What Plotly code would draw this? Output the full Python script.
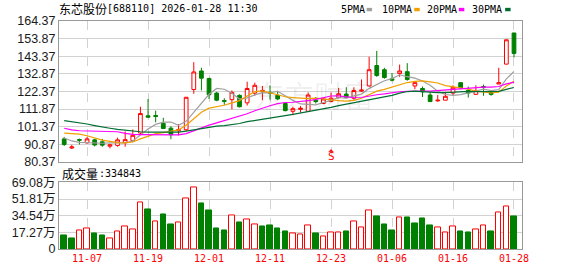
import plotly.graph_objects as go

# ---------------- data ----------------
dates = ["11-04", "11-05", "11-06", "11-07", "11-10", "11-11", "11-12", "11-13", "11-14",
         "11-17", "11-18", "11-19", "11-20", "11-21", "11-24", "11-25", "11-26", "11-27",
         "11-28", "12-01", "12-02", "12-03", "12-04", "12-05", "12-08", "12-09", "12-10",
         "12-11", "12-12", "12-15", "12-16", "12-17", "12-18", "12-19", "12-22", "12-23",
         "12-24", "12-25", "12-26", "12-29", "12-30", "12-31", "01-05", "01-06", "01-07",
         "01-08", "01-09", "01-12", "01-13", "01-14", "01-15", "01-16", "01-19", "01-20",
         "01-21", "01-22", "01-23", "01-26", "01-27", "01-28"]

opens = [94.03, 88.60, 93.63, 91.71, 93.45, 92.29, 89.70, 90.14, 91.71, 93.04,
         97.52, 107.81, 108.00, 103.33, 100.43, 98.86, 99.44, 123.51, 134.56, 130.08,
         121.36, 116.90, 117.46, 120.02, 115.55, 121.36, 122.52, 121.77, 120.02, 115.14,
         110.49, 111.65, 110.49, 117.12, 115.14, 116.30, 118.63, 120.78, 118.28, 122.52,
         125.60, 137.81, 135.31, 129.90, 132.99, 134.15, 125.60, 124.09, 120.20, 116.70,
         117.12, 121.36, 127.58, 122.93, 120.60, 125.25, 121.77, 126.77, 138.63, 157.23]
highs = [95.20, 90.50, 94.21, 95.20, 94.21, 94.03, 91.13, 94.79, 98.51, 99.67,
         113.22, 117.87, 110.89, 106.65, 101.59, 102.93, 119.00, 139.79, 136.47, 130.50,
         122.11, 118.28, 122.93, 120.60, 128.16, 127.58, 125.60, 126.00, 122.70, 115.95,
         113.22, 113.63, 121.77, 119.03, 118.60, 121.77, 124.44, 124.85, 124.85, 129.50,
         143.05, 146.53, 136.47, 133.40, 138.39, 139.21, 127.60, 125.25, 121.77, 120.20,
         122.11, 126.01, 127.93, 125.25, 126.01, 126.42, 122.52, 136.47, 153.20, 157.23]
lows = [89.79, 88.00, 90.72, 91.13, 89.56, 89.38, 88.39, 89.38, 89.38, 92.11,
        96.94, 106.70, 103.92, 99.85, 93.86, 96.18, 98.68, 120.95, 122.93, 117.87,
        116.53, 114.38, 111.65, 112.81, 113.97, 119.79, 117.12, 117.46, 117.12, 110.49,
        108.16, 109.73, 110.14, 115.14, 114.80, 115.95, 118.28, 118.28, 117.46, 122.11,
        125.25, 131.07, 129.90, 128.34, 131.07, 128.74, 123.68, 119.03, 116.30, 116.30,
        117.12, 120.20, 123.68, 118.63, 120.60, 119.79, 119.79, 126.77, 138.60, 142.70]
closes = [90.72, 89.20, 93.28, 94.03, 90.37, 90.30, 90.50, 93.45, 93.60, 96.18,
          109.15, 107.00, 107.40, 100.25, 96.53, 99.67, 118.86, 133.98, 130.25, 120.37,
          117.12, 116.50, 121.77, 113.22, 124.09, 126.01, 122.93, 121.36, 117.87, 110.89,
          112.06, 112.30, 120.20, 116.30, 117.87, 118.28, 120.95, 118.63, 122.90, 123.10,
          135.31, 131.82, 130.66, 129.09, 134.56, 129.50, 127.58, 122.11, 116.30, 117.10,
          119.44, 124.85, 124.44, 121.36, 122.93, 124.85, 120.60, 127.58, 153.17, 145.02]
volumes = [137000, 114000, 191000, 214000, 161000, 137000, 114000, 181000, 235000, 204000,
           483000, 406000, 282000, 355000, 258000, 272000, 527000, 644000, 476000, 396000,
           214000, 194000, 345000, 275000, 302000, 255000, 235000, 245000, 214000, 184000,
           164000, 154000, 245000, 157000, 134000, 174000, 174000, 184000, 282000, 225000,
           396000, 338000, 258000, 194000, 325000, 325000, 265000, 315000, 248000, 225000,
           174000, 235000, 184000, 174000, 204000, 245000, 184000, 376000, 446000, 334843]

ma5 = [94.6, 92.8, 92.0, 91.7, 91.52, 91.44, 91.70, 91.73, 91.64, 92.81,
       96.58, 99.88, 102.67, 104.00, 104.07, 102.17, 104.54, 109.86, 115.86, 120.63,
       124.12, 123.64, 121.20, 117.80, 118.54, 120.32, 121.60, 121.52, 122.45, 119.81,
       117.02, 114.90, 114.66, 114.35, 115.75, 116.99, 118.72, 118.41, 119.73, 120.77,
       124.18, 126.35, 128.76, 130.00, 132.29, 131.13, 130.28, 128.57, 126.01, 122.52,
       120.51, 119.96, 120.43, 121.44, 122.60, 123.69, 122.84, 123.46, 129.83, 134.24]
ma10 = [97.5, 97.2, 96.9, 95.9, 94.6, 93.3, 92.5, 91.8, 91.7, 92.16,
        94.01, 95.79, 97.20, 97.82, 98.44, 99.37, 102.21, 106.26, 109.93, 112.35,
        113.14, 114.09, 115.53, 116.83, 119.58, 122.22, 122.62, 121.36, 120.12, 119.18,
        118.67, 118.25, 118.09, 118.40, 117.78, 117.01, 116.81, 116.54, 117.04, 118.26,
        120.58, 122.54, 123.58, 124.86, 126.53, 127.65, 128.32, 128.66, 128.00, 127.40,
        125.82, 125.12, 124.50, 123.72, 122.56, 122.10, 121.40, 121.95, 125.63, 128.42]
ma20 = [100.4, 99.4, 98.9, 98.7, 98.7, 98.6, 98.5, 98.3, 97.3, 96.7,
        96.6, 96.5, 96.5, 96.5, 96.4, 96.4, 97.2, 99.0, 100.9, 102.25,
        103.57, 104.94, 106.36, 107.32, 109.01, 110.80, 112.42, 113.81, 115.03, 115.76,
        115.91, 116.17, 116.81, 117.61, 118.68, 119.61, 119.72, 118.95, 118.58, 118.72,
        119.63, 120.39, 120.84, 121.63, 122.15, 122.33, 122.56, 122.60, 122.52, 122.83,
        123.20, 123.83, 124.04, 124.29, 124.55, 124.87, 124.86, 125.30, 126.82, 127.91]
ma30 = [104.9, 104.3, 103.7, 102.9, 102.0, 101.0, 100.4, 99.7, 99.1, 98.5,
        98.3, 98.1, 98.1, 98.1, 98.1, 98.1, 98.7, 99.4, 100.4, 101.2,
        101.6, 102.0, 102.6, 103.2, 104.3, 105.1, 105.7, 106.6, 107.4, 107.90,
        108.61, 109.38, 110.27, 111.02, 111.93, 112.87, 113.88, 114.72, 115.70, 116.59,
        117.47, 118.29, 119.07, 120.03, 121.30, 122.29, 122.58, 122.19, 121.72, 121.61,
        121.69, 121.97, 122.06, 122.33, 122.29, 122.25, 122.17, 122.38, 123.56, 124.70]

ma_names = ["5PMA", "10PMA", "20PMA", "30PMA"]
price_ticks = [80.37, 90.87, 101.37, 111.87, 122.37, 132.87, 143.37, 153.87, 164.37]
vol_ticks = [0, 172700, 345400, 518100, 690800]
vol_tick_labels = ["0", "17.27万", "34.54万", "51.81万", "69.08万"]
date_tick_labels = ["11-07", "11-19", "12-01", "12-11", "12-23", "01-06", "01-16", "01-28"]
stock_name = "东芯股份"
stock_info = "[688110] 2026-01-28 11:30"
vol_title = "成交量"
signal_date = "12-23"
signal_text = "S"
watermark = "东方财富"

# ---------------- style ----------------
RED = "#ff0000"
GREEN = "#008000"
MA_COLORS = ["#a0a0a0", "#f0a000", "#ff00ff", "#006e33"]
BORDER = "#999999"
GRID = "#d2d2d2"
MONO = "DejaVu Sans Mono"
CJK = "Noto Sans CJK SC"
W, H = 578, 276
ML, MR, MT, MB = 55, 56, 21, 21
PW, PH = W - ML - MR, H - MT - MB


def px(x):
    return (x - ML) / PW


def py(y):
    return (H - MB - y) / PH


xs = list(range(len(dates)))
tick_pos = [dates.index(d) for d in date_tick_labels]

fig = go.Figure()

fig.add_trace(go.Candlestick(
    x=xs, open=opens, high=highs, low=lows, close=closes,
    increasing=dict(line=dict(color=RED, width=1), fillcolor="#ffffff"),
    decreasing=dict(line=dict(color=GREEN, width=1), fillcolor=GREEN),
    whiskerwidth=0, xaxis="x", yaxis="y", showlegend=False, hoverinfo="skip"))

for name, vals, col in zip(ma_names, [ma5, ma10, ma20, ma30], MA_COLORS):
    fig.add_trace(go.Scatter(x=xs, y=vals, mode="lines", name=name,
                             line=dict(color=col, width=1.2), xaxis="x", yaxis="y",
                             showlegend=False, hoverinfo="skip"))

up = []
for i in range(len(closes)):
    ref = closes[i - 1] if i > 0 else opens[i]
    up.append(closes[i] >= ref)

fig.add_trace(go.Bar(
    x=xs, y=volumes, width=0.72,
    marker=dict(color=["#ffffff" if u else GREEN for u in up],
                line=dict(color=[RED if u else GREEN for u in up], width=1)),
    xaxis="x2", yaxis="y2", showlegend=False, hoverinfo="skip"))

xr = [-0.68, len(dates) + 0.05]
common_x = dict(range=xr, tickvals=tick_pos, showgrid=True, gridcolor=GRID,
                griddash="dash", gridwidth=1, zeroline=False, showline=True, mirror=True,
                linecolor=BORDER, linewidth=1, ticks="", fixedrange=True)
price_dom = [py(165.5), 1]
vol_dom = [0, py(186.7)]

fig.update_layout(
    width=W, height=H,
    margin=dict(l=ML, r=MR, t=MT, b=MB),
    paper_bgcolor="white", plot_bgcolor="white",
    showlegend=False, bargap=0,
    xaxis=dict(domain=[0, 1], anchor="y", showticklabels=False,
               rangeslider=dict(visible=False), **common_x),
    xaxis2=dict(domain=[0, 1], anchor="y2", showticklabels=True,
                ticktext=date_tick_labels,
                tickfont=dict(family=MONO, size=10, color=RED), **common_x),
    yaxis=dict(domain=price_dom, range=[price_ticks[0], price_ticks[-1]],
               tickvals=price_ticks, ticktext=[f"{v:.2f}" for v in price_ticks],
               tickfont=dict(family="Liberation Sans, Arial", size=12.5, color="#1a1a1a"),
               showgrid=True, gridcolor=GRID, zeroline=False, showline=True, mirror=True,
               linecolor=BORDER, linewidth=1, ticks="", fixedrange=True),
    yaxis2=dict(domain=vol_dom, range=[vol_ticks[0], vol_ticks[-1]],
                tickvals=vol_ticks, ticktext=vol_tick_labels,
                tickfont=dict(family="Liberation Sans, Arial, Noto Sans CJK SC", size=12.5,
                              color="#1a1a1a"),
                showgrid=True, gridcolor=GRID, zeroline=False, showline=True, mirror=True,
                linecolor=BORDER, linewidth=1, ticks="", fixedrange=True),
)

ann = []
shapes = []
# title
ann.append(dict(text=stock_name, x=px(53), y=py(8), xref="paper", yref="paper",
                xanchor="left", yanchor="middle", showarrow=False,
                font=dict(family=CJK, size=12, color="#000")))
ann.append(dict(text=stock_info, x=px(101), y=py(8), xref="paper", yref="paper",
                xanchor="left", yanchor="middle", showarrow=False,
                font=dict(family=MONO, size=10, color="#000")))
# legend
leg_text_x = [339, 380.7, 426, 471.7]
leg_sw_x = [365.3, 413.3, 458.3, 505]
for name, col, tx, sx in zip(ma_names, MA_COLORS, leg_text_x, leg_sw_x):
    ann.append(dict(text=name, x=px(tx - 2), y=py(9), xref="paper", yref="paper",
                    xanchor="left", yanchor="middle", showarrow=False,
                    font=dict(family=MONO, size=10, color="#000")))
    shapes.append(dict(type="rect", xref="paper", yref="paper",
                       x0=px(sx), x1=px(sx + 5.5), y0=py(11), y1=py(7.5),
                       fillcolor=col, line=dict(width=0)))
# volume title
ann.append(dict(text=vol_title, x=px(56), y=py(177), xref="paper", yref="paper",
                xanchor="left", yanchor="middle", showarrow=False,
                font=dict(family=CJK, size=12, color="#000")))
ann.append(dict(text=":" + str(volumes[-1]), x=px(93), y=py(177), xref="paper", yref="paper",
                xanchor="left", yanchor="middle", showarrow=False,
                font=dict(family=MONO, size=10, color="#000")))
# signal marker: letter plus a small arrow tip drawn as a shape
sig_x = dates.index(signal_date)
ann.append(dict(text=signal_text, x=sig_x, y=py(160.5), xref="x", yref="paper",
                xanchor="center", yanchor="middle", showarrow=False,
                font=dict(family=MONO, size=11, color=RED)))
shapes.append(dict(type="path", xref="x", yref="paper",
                   path=f"M {sig_x - 0.3},{py(155.3)} L {sig_x + 0.3},{py(155.3)} "
                        f"L {sig_x},{py(152.8)} Z",
                   fillcolor=RED, line=dict(color=RED, width=0.5)))
# watermark
ann.append(dict(text=watermark, x=px(312), y=py(96), xref="paper", yref="paper",
                xanchor="center", yanchor="middle", showarrow=False,
                font=dict(family=CJK, size=30, color="rgba(0,0,0,0.07)")))

fig.update_layout(annotations=ann, shapes=shapes)
fig.write_html("out.html")
